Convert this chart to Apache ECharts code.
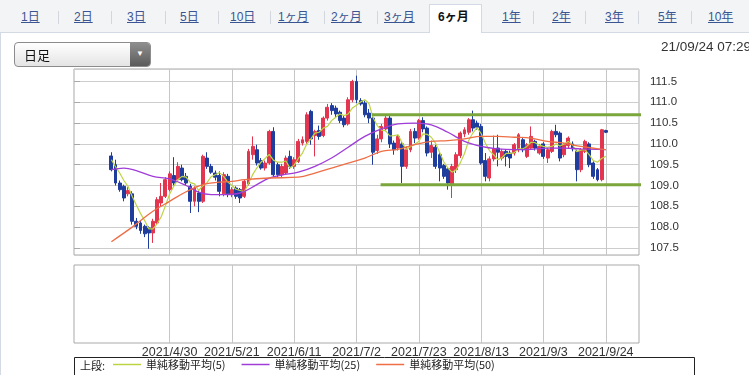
<!DOCTYPE html>
<html><head><meta charset="utf-8">
<script src="https://cdn.jsdelivr.net/npm/echarts@6/dist/echarts.min.js"></script>
<style>
body{margin:0;width:749px;height:375px;overflow:hidden;background:#fff;font-family:"Liberation Sans",Arial,"Noto Sans CJK JP",sans-serif;}
#chart{position:absolute;left:0;top:0;width:749px;height:375px;}
#tabs{position:absolute;left:0;top:0;width:749px;height:32px;background:#f3f4f6;border-bottom:1px solid #d4dae3;z-index:2}
.tab{position:absolute;top:9px;font-size:12px;color:#3a5591;text-decoration:underline;white-space:nowrap;line-height:16px;font-family:"Liberation Sans",Arial,"Noto Sans CJK JP",sans-serif}
.sep{position:absolute;top:11px;width:1px;height:13px;background:#d3d7dd}
#active{position:absolute;left:429px;top:4px;width:53px;height:29px;background:#fff;border:1px solid #d4dae3;border-bottom:none;box-sizing:border-box}
#leftline{position:absolute;left:0;top:32px;width:1px;height:343px;background:#d4dae3;z-index:2}
#dd{position:absolute;left:14px;top:42px;width:137px;height:25px;border:1px solid #8c8c8c;border-radius:4px;background:linear-gradient(#ffffff,#e4e4e4);box-sizing:border-box;z-index:2;overflow:hidden}
#dd .t{position:absolute;left:9px;top:3px;font-size:13px;color:#111;font-family:"Noto Sans CJK JP",sans-serif;line-height:17px}
#dd .b{position:absolute;right:0;top:0;width:20px;height:23px;background:linear-gradient(#8e8e8e,#5c5c5c)}
#dd .b span{position:absolute;left:6px;top:6px;color:#fff;font-size:8px;line-height:9px}
#ts{position:absolute;left:661px;top:39px;font-size:13.5px;color:#333;white-space:nowrap;z-index:2}
</style></head>
<body>
<div id="chart"></div>
<div id="tabs">
  <div id="active"></div>
  <span class="tab" style="left:21px">1日</span><div class="sep" style="left:58px"></div>
  <span class="tab" style="left:74px">2日</span><div class="sep" style="left:111px"></div>
  <span class="tab" style="left:127px">3日</span><div class="sep" style="left:165px"></div>
  <span class="tab" style="left:180px">5日</span><div class="sep" style="left:218px"></div>
  <span class="tab" style="left:230px">10日</span><div class="sep" style="left:270px"></div>
  <span class="tab" style="left:278px">1ヶ月</span><div class="sep" style="left:324px"></div>
  <span class="tab" style="left:331px">2ヶ月</span><div class="sep" style="left:377px"></div>
  <span class="tab" style="left:384px">3ヶ月</span>
  <span class="tab" style="left:438px;color:#111;font-weight:bold;text-decoration:none">6ヶ月</span>
  <span class="tab" style="left:502px">1年</span><div class="sep" style="left:533px"></div>
  <span class="tab" style="left:552px">2年</span><div class="sep" style="left:585px"></div>
  <span class="tab" style="left:605px">3年</span><div class="sep" style="left:638px"></div>
  <span class="tab" style="left:658px">5年</span><div class="sep" style="left:691px"></div>
  <span class="tab" style="left:708px">10年</span>
</div>
<div id="leftline"></div>
<div id="dd"><span class="t">日足</span><div class="b"><span>▼</span></div></div>
<div id="ts">21/09/24 07:29</div>
<script>
// ---- data ----
const dates = [
'2021/3/30','2021/3/31','2021/4/1','2021/4/2','2021/4/5','2021/4/6','2021/4/7','2021/4/8','2021/4/9',
'2021/4/12','2021/4/13','2021/4/14','2021/4/15','2021/4/16','2021/4/19','2021/4/20','2021/4/21','2021/4/22','2021/4/23',
'2021/4/26','2021/4/27','2021/4/28','2021/4/29','2021/4/30',
'2021/5/3','2021/5/4','2021/5/5','2021/5/6','2021/5/7','2021/5/10','2021/5/11','2021/5/12','2021/5/13','2021/5/14',
'2021/5/17','2021/5/18','2021/5/19','2021/5/20','2021/5/21','2021/5/24','2021/5/25','2021/5/26','2021/5/27','2021/5/28','2021/5/31',
'2021/6/1','2021/6/2','2021/6/3','2021/6/4','2021/6/7','2021/6/8','2021/6/9','2021/6/10','2021/6/11',
'2021/6/14','2021/6/15','2021/6/16','2021/6/17','2021/6/18','2021/6/21','2021/6/22','2021/6/23','2021/6/24','2021/6/25',
'2021/6/28','2021/6/29','2021/6/30','2021/7/1','2021/7/2',
'2021/7/5','2021/7/6','2021/7/7','2021/7/8','2021/7/9','2021/7/12','2021/7/13','2021/7/14','2021/7/15','2021/7/16',
'2021/7/19','2021/7/20','2021/7/21','2021/7/22','2021/7/23','2021/7/26','2021/7/27','2021/7/28','2021/7/29','2021/7/30',
'2021/8/2','2021/8/3','2021/8/4','2021/8/5','2021/8/6','2021/8/9','2021/8/10','2021/8/11','2021/8/12','2021/8/13',
'2021/8/16','2021/8/17','2021/8/18','2021/8/19','2021/8/20','2021/8/23','2021/8/24','2021/8/25','2021/8/26','2021/8/27',
'2021/8/30','2021/8/31','2021/9/1','2021/9/2','2021/9/3',
'2021/9/6','2021/9/7','2021/9/8','2021/9/9','2021/9/10','2021/9/13','2021/9/14','2021/9/15','2021/9/16','2021/9/17',
'2021/9/20','2021/9/21','2021/9/22','2021/9/23','2021/9/24',
'2021/9/27','2021/9/28','2021/9/29','2021/9/30','2021/10/1','2021/10/4','2021/10/5','2021/10/6'
];
const tickLabels = ['2021/4/30','2021/5/21','2021/6/11','2021/7/2','2021/7/23','2021/8/13','2021/9/3','2021/9/24'];
const yTicks = [107.5,108.0,108.5,109.0,109.5,110.0,110.5,111.0,111.5];
const firstDate = '2021/4/12';
// [open, close, low, high]
const ohlc = [
[109.71,109.38,109.34,109.80],[109.50,109.06,109.00,109.62],[109.06,108.90,108.85,109.12],[108.98,108.70,108.62,109.02],
[108.80,108.88,108.74,108.96],[108.80,108.14,108.06,108.86],[108.14,108.02,107.95,108.22],[108.10,107.92,107.84,108.16],
[108.02,107.84,107.76,108.06],[107.98,107.86,107.48,108.02],[107.86,108.14,107.62,108.20],[108.10,108.66,108.06,108.72],
[108.58,108.74,108.50,109.06],[108.74,109.14,108.70,109.20],[108.90,109.28,108.86,109.34],[109.24,109.06,109.00,109.68],
[109.14,109.46,109.10,109.56],[109.42,109.14,109.10,109.50],[109.22,109.06,109.00,109.30],[108.98,108.62,108.34,109.04],
[108.62,108.94,108.50,108.98],[108.82,108.62,108.36,108.88],[108.62,109.70,108.58,109.74],[109.66,109.46,109.40,109.80],
[109.46,109.32,109.28,109.52],[109.30,109.20,109.12,109.36],[109.24,108.86,108.74,109.34],[108.80,109.26,108.74,109.32],
[109.22,108.80,108.72,109.28],[108.78,108.90,108.72,108.96],[108.94,108.74,108.68,108.98],[108.90,108.70,108.58,108.94],
[108.74,109.10,108.70,109.14],[109.04,109.82,109.00,109.88],[109.74,109.94,109.62,110.18],[109.86,109.54,109.48,109.98],
[109.60,109.42,109.38,109.66],[109.42,109.54,109.36,109.60],[109.54,110.30,109.50,110.34],[110.30,109.26,109.20,110.40],
[109.50,109.26,109.20,109.56],[109.26,109.46,109.20,109.52],[109.30,109.66,109.26,109.72],[109.70,109.46,109.40,109.84],
[109.46,109.62,109.40,109.68],[109.58,110.06,109.54,110.12],[110.02,110.10,109.96,110.18],[110.06,110.70,110.00,110.76],
[110.78,110.12,109.98,110.82],[110.20,110.30,109.70,110.34],[110.32,110.18,110.10,110.44],[110.20,110.62,110.16,110.66],
[110.62,110.88,110.56,110.96],[110.92,110.80,110.70,110.98],[110.86,110.72,110.64,110.92],[110.76,110.56,110.50,110.80],
[110.62,110.46,110.40,110.68],[110.48,111.06,110.44,111.12],[111.06,111.50,111.00,111.54],[111.50,111.06,110.98,111.64],
[111.04,110.96,110.92,111.10],[110.98,110.70,110.64,111.04],[110.74,110.62,110.50,110.84],[110.62,109.80,109.50,110.66],
[109.84,110.12,109.76,110.22],[110.12,110.42,110.04,110.48],[110.36,110.62,110.30,110.70],[110.62,110.00,109.90,110.68],
[110.02,109.86,109.74,110.08],[109.90,110.18,109.84,110.22],[110.00,109.46,109.06,110.06],[109.46,109.86,109.40,109.94],
[109.86,110.30,109.80,110.36],[110.30,110.14,110.02,110.38],[110.14,110.56,110.10,110.60],[110.56,110.36,110.28,110.64],
[110.38,109.78,109.70,110.42],[109.80,109.96,109.66,110.08],[109.92,109.46,109.40,109.98],[109.74,109.42,109.10,109.80],
[109.48,109.22,109.16,109.52],[109.40,109.06,108.90,109.44],[109.04,109.46,108.70,109.52],[109.38,109.74,109.30,109.80],
[109.72,110.26,109.66,110.30],[110.24,110.34,110.16,110.40],[110.28,110.58,110.22,110.62],[110.58,110.38,110.30,110.80],
[110.50,110.40,110.34,110.56],[110.42,109.54,109.50,110.48],[109.60,109.22,109.10,109.78],[109.18,109.64,109.10,109.70],
[109.64,109.88,109.58,110.20],[109.90,109.80,109.46,110.22],[109.66,109.82,109.60,109.88],[109.82,109.70,109.46,109.86],
[109.78,109.66,109.42,109.84],[109.78,109.98,109.72,110.02],[109.86,110.22,109.80,110.26],[110.10,109.86,109.80,110.14],
[109.70,109.98,109.66,110.02],[109.90,110.18,109.86,110.42],[110.06,109.90,109.84,110.10],[109.78,109.94,109.74,110.00],
[110.00,109.70,109.64,110.04],[109.66,109.86,109.54,109.90],[109.82,110.30,109.78,110.34],[110.30,110.22,110.16,110.46],
[110.26,109.66,109.58,110.30],[109.74,109.98,109.68,110.02],[109.96,110.14,109.90,110.18],[110.00,109.88,109.82,110.06],
[109.82,109.38,109.10,109.86],[109.38,109.86,109.32,109.90],[109.82,110.06,109.78,110.10],[110.00,109.50,109.44,110.04],
[109.54,109.22,109.16,109.58],[109.38,109.14,109.10,109.42],[109.14,110.34,109.10,110.36],[110.32,110.28,110.26,110.34]
];
const ma5 = [
109.62,109.45,109.30,109.12,108.98,108.74,108.53,108.33,108.16,107.96,107.96,108.08,108.25,108.51,108.79,108.98,
109.14,109.22,109.20,109.07,109.04,108.88,108.99,109.07,109.21,109.26,109.31,109.22,109.09,109.00,108.91,108.88,
108.85,109.05,109.26,109.42,109.56,109.65,109.75,109.61,109.56,109.56,109.59,109.42,109.49,109.65,109.78,109.99,
110.12,110.26,110.28,110.38,110.42,110.56,110.64,110.72,110.68,110.72,110.86,110.93,111.01,111.06,110.97,110.63,
110.44,110.33,110.32,110.19,110.20,110.22,110.02,109.87,109.93,109.99,110.06,110.24,110.23,110.16,110.02,109.80,
109.57,109.42,109.32,109.38,109.55,109.77,110.08,110.26,110.39,110.25,110.02,109.84,109.74,109.62,109.67,109.77,
109.77,109.79,109.88,109.88,109.94,110.04,110.03,109.97,109.94,109.92,109.94,110.00,109.95,110.00,110.06,109.98,
109.81,109.85,109.86,109.74,109.60,109.56,109.65,109.70
];
const ma25 = [
['2021/4/12',109.38],['2021/4/15',109.42],['2021/4/20',109.36],['2021/4/26',109.22],['2021/4/30',109.16],
['2021/5/6',109.00],['2021/5/11',108.84],['2021/5/14',108.78],['2021/5/19',108.78],['2021/5/25',108.82],
['2021/5/31',109.02],['2021/6/3',109.18],['2021/6/8',109.25],['2021/6/14',109.32],['2021/6/18',109.46],
['2021/6/24',109.66],['2021/6/30',109.92],['2021/7/6',110.18],['2021/7/12',110.36],['2021/7/16',110.48],
['2021/7/22',110.50],['2021/7/28',110.46],['2021/8/3',110.28],['2021/8/9',110.06],['2021/8/13',109.94],
['2021/8/19',109.88],['2021/8/25',109.86],['2021/8/31',109.87],['2021/9/6',109.90],['2021/9/10',109.90],
['2021/9/16',109.88],['2021/9/24',109.86]
];
const ma50 = [
['2021/4/12',107.65],['2021/4/19',108.00],['2021/4/26',108.38],['2021/4/30',108.62],['2021/5/6',108.85],
['2021/5/12',109.02],['2021/5/18',109.08],['2021/5/21',109.10],['2021/5/26',109.14],['2021/6/3',109.18],
['2021/6/14',109.20],['2021/6/18',109.30],['2021/6/24',109.42],['2021/6/30',109.54],['2021/7/6',109.66],
['2021/7/12',109.82],['2021/7/16',109.87],['2021/7/22',109.98],['2021/7/28',110.06],['2021/8/3',110.08],
['2021/8/9',110.12],['2021/8/13',110.18],['2021/8/19',110.18],['2021/8/25',110.16],['2021/8/31',110.14],
['2021/9/6',110.06],['2021/9/10',110.02],['2021/9/16',109.94],['2021/9/24',109.86]
];
// hand-drawn support / resistance lines: [category position, price]
const resistance = [[71.7,110.70],[137.9,110.70]];
const support = [[73.8,109.02],[138.4,109.02]];
const seriesNames = ['単純移動平均(5)','単純移動平均(25)','単純移動平均(50)'];

// ---- build ----
const start = dates.indexOf(firstDate);
const candles = dates.map((d,k)=> (k>=start && k-start<ohlc.length) ? ohlc[k-start] : '-');
const ma5Data = dates.map((d,k)=> (k>=start && k-start<ma5.length) ? ma5[k-start] : '-');
const tickSet = new Set(tickLabels);
const showTick = (i, v) => tickSet.has(v);
const ySet = new Set(yTicks.map(v=>v.toFixed(1)));

const chart = echarts.init(document.getElementById('chart'), null, {renderer:'canvas'});
const GRID_L = 74, GRID_R = 110;
chart.setOption({
  animation:false,
  backgroundColor:'#fff',
  grid:[
    {left:GRID_L, right:GRID_R, top:69, height:186, show:true, borderColor:'#a9a9a9', borderWidth:1, backgroundColor:'#fff'},
    {left:GRID_L, right:GRID_R, top:265, height:78, show:true, borderColor:'#a9a9a9', borderWidth:1, backgroundColor:'#fff'}
  ],
  xAxis:[
    {gridIndex:0, type:'category', data:dates, boundaryGap:false,
     axisLine:{show:false}, axisTick:{show:false}, axisLabel:{show:false},
     splitLine:{show:true, interval:showTick, lineStyle:{color:'#c6c6c6', width:1}}},
    {gridIndex:1, type:'category', data:dates, boundaryGap:false,
     axisLine:{show:false}, axisTick:{show:false},
     axisLabel:{show:true, interval:showTick, color:'#333', fontSize:12.5, margin:3,
       fontFamily:'"Liberation Sans", Arial, sans-serif'},
     splitLine:{show:true, interval:showTick, lineStyle:{color:'#c6c6c6', width:1}}},
    {gridIndex:0, type:'value', min:0, max:dates.length-1, show:false}
  ],
  yAxis:[
    {gridIndex:0, type:'value', position:'right', min:107.33, max:111.8, splitNumber:9, minInterval:0.5, maxInterval:0.5,
     axisLine:{show:false},
     axisTick:{show:true, length:6, lineStyle:{color:'#a9a9a9'}},
     splitLine:{show:true, lineStyle:{color:'#cdcdcd', width:1}},
     axisLabel:{color:'#333', fontSize:11.5, margin:11, showMinLabel:false, showMaxLabel:false,
       fontFamily:'"Liberation Sans", Arial, sans-serif',
       formatter:(v)=> ySet.has(v.toFixed(1)) && Math.abs(v*2-Math.round(v*2))<1e-6 ? v.toFixed(1) : ''}},
    {gridIndex:1, type:'value', min:0, max:1, show:false}
  ],
  legend:{
    data:seriesNames, left:113, top:359, padding:0, icon:'rect', itemWidth:28, itemHeight:1.5, itemGap:16,
    textStyle:{fontSize:11, color:'#222', fontFamily:'"Noto Sans CJK JP", sans-serif'},
    selectedMode:false
  },
  graphic:[
    {type:'rect', z:-10, shape:{x:74.5, y:357.5, width:620, height:30}, style:{fill:'#fff', stroke:'#222', lineWidth:1}},
    {type:'text', z:5, x:80, y:360, style:{text:'上段:', fontSize:11, fill:'#222', fontFamily:'"Noto Sans CJK JP", sans-serif'}}
  ],
  series:[
    {type:'candlestick', xAxisIndex:0, yAxisIndex:0, data:candles, barWidth:3.4, silent:true,
     itemStyle:{color:'#e3354f', color0:'#1f3d9c', borderColor:'#e3354f', borderColor0:'#1f3d9c', borderWidth:1}},
    {name:seriesNames[0], type:'line', xAxisIndex:0, yAxisIndex:0, data:ma5Data, symbol:'none', z:5,
     lineStyle:{color:'#bcd444', width:1.2}, itemStyle:{color:'#bcd444'}},
    {name:seriesNames[1], type:'line', xAxisIndex:0, yAxisIndex:0, data:ma25, symbol:'none', smooth:0.4, z:5,
     lineStyle:{color:'#a03cd8', width:1.3}, itemStyle:{color:'#a03cd8'}},
    {name:seriesNames[2], type:'line', xAxisIndex:0, yAxisIndex:0, data:ma50, symbol:'none', smooth:0.4, z:5,
     lineStyle:{color:'#ee6e45', width:1.3}, itemStyle:{color:'#ee6e45'}},
    {type:'line', xAxisIndex:2, yAxisIndex:0, data:resistance, symbol:'none', clip:false, silent:true, z:6,
     lineStyle:{color:'#7aa63c', width:3}},
    {type:'line', xAxisIndex:2, yAxisIndex:0, data:support, symbol:'none', clip:false, silent:true, z:6,
     lineStyle:{color:'#7aa63c', width:3}}
  ]
});
</script>
</body></html>
